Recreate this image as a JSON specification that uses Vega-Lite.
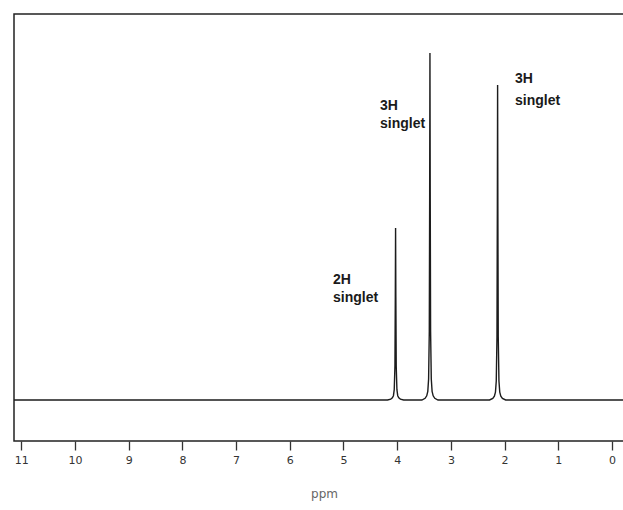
{
  "$schema": "https://vega.github.io/schema/vega-lite/v6.json",
  "autosize": "none",
  "width": 620,
  "height": 427,
  "padding": {"left": 14, "top": 14, "right": 0, "bottom": 69},
  "background": "white",
  "config": {
    "view": {"stroke": "#222222", "strokeWidth": 1.5}
  },
  "datasets": {
    "spectrum": [
      {"ppm": 11.3, "intensity": 0},
      {"ppm": 8.0, "intensity": 0},
      {"ppm": 4.18, "intensity": 0},
      {"ppm": 4.12, "intensity": 0.9},
      {"ppm": 4.09, "intensity": 2.1},
      {"ppm": 4.07, "intensity": 4.3},
      {"ppm": 4.055, "intensity": 10.3},
      {"ppm": 4.042, "intensity": 34},
      {"ppm": 4.035, "intensity": 103},
      {"ppm": 4.03, "intensity": 172},
      {"ppm": 4.025, "intensity": 103},
      {"ppm": 4.018, "intensity": 34},
      {"ppm": 4.005, "intensity": 10.3},
      {"ppm": 3.99, "intensity": 4.3},
      {"ppm": 3.97, "intensity": 2.1},
      {"ppm": 3.94, "intensity": 0.9},
      {"ppm": 3.88, "intensity": 0},
      {"ppm": 3.54, "intensity": 0},
      {"ppm": 3.48, "intensity": 1.7},
      {"ppm": 3.45, "intensity": 4.2},
      {"ppm": 3.43, "intensity": 8.7},
      {"ppm": 3.415, "intensity": 21},
      {"ppm": 3.402, "intensity": 69},
      {"ppm": 3.395, "intensity": 208},
      {"ppm": 3.39, "intensity": 347},
      {"ppm": 3.385, "intensity": 208},
      {"ppm": 3.378, "intensity": 69},
      {"ppm": 3.365, "intensity": 21},
      {"ppm": 3.35, "intensity": 8.7},
      {"ppm": 3.33, "intensity": 4.2},
      {"ppm": 3.30, "intensity": 1.7},
      {"ppm": 3.24, "intensity": 0},
      {"ppm": 2.28, "intensity": 0},
      {"ppm": 2.22, "intensity": 1.6},
      {"ppm": 2.19, "intensity": 3.8},
      {"ppm": 2.17, "intensity": 7.9},
      {"ppm": 2.155, "intensity": 19},
      {"ppm": 2.142, "intensity": 63},
      {"ppm": 2.135, "intensity": 189},
      {"ppm": 2.13, "intensity": 315},
      {"ppm": 2.125, "intensity": 189},
      {"ppm": 2.118, "intensity": 63},
      {"ppm": 2.105, "intensity": 19},
      {"ppm": 2.09, "intensity": 7.9},
      {"ppm": 2.07, "intensity": 3.8},
      {"ppm": 2.04, "intensity": 1.6},
      {"ppm": 1.98, "intensity": 0},
      {"ppm": -0.5, "intensity": 0}
    ],
    "labels": [
      {"ppm": 4.32, "intensity": 294, "text": "3H"},
      {"ppm": 4.32, "intensity": 276, "text": "singlet"},
      {"ppm": 1.806, "intensity": 321, "text": "3H"},
      {"ppm": 1.806, "intensity": 299, "text": "singlet"},
      {"ppm": 5.196, "intensity": 120, "text": "2H"},
      {"ppm": 5.196, "intensity": 102, "text": "singlet"}
    ]
  },
  "layer": [
    {
      "data": {"name": "spectrum"},
      "mark": {"type": "line", "color": "#1c1c1c", "strokeWidth": 1.4, "clip": true, "interpolate": "linear"},
      "encoding": {
        "x": {
          "field": "ppm",
          "type": "quantitative",
          "scale": {"domain": [-0.41, 11.136], "reverse": true, "nice": false, "zero": false},
          "axis": {
            "values": [0, 0.5, 1, 1.5, 2, 2.5, 3, 3.5, 4, 4.5, 5, 5.5, 6, 6.5, 7, 7.5, 8, 8.5, 9, 9.5, 10, 10.5, 11],
            "labelExpr": "datum.value % 1 ? '' : datum.label",
            "domain": false,
            "grid": false,
            "tickColor": "#333333",
            "tickWidth": 1.3,
            "tickSize": {"condition": {"test": "datum.value % 1 !== 0", "value": 5}, "value": 9},
            "labelFont": "DejaVu Sans",
            "labelFontSize": 11,
            "labelColor": "#333333",
            "labelPadding": 4,
            "title": "ppm",
            "titleFont": "DejaVu Sans",
            "titleFontSize": 12,
            "titleFontWeight": "normal",
            "titleColor": "#666666",
            "titlePadding": 23
          }
        },
        "y": {
          "field": "intensity",
          "type": "quantitative",
          "scale": {"domain": [-41, 386], "nice": false, "zero": false},
          "axis": null
        }
      }
    },
    {
      "data": {"name": "labels"},
      "mark": {"type": "text", "align": "left", "baseline": "middle", "font": "Liberation Sans", "fontSize": 14, "fontWeight": "bold", "color": "#1a1a1a"},
      "encoding": {
        "x": {"field": "ppm", "type": "quantitative"},
        "y": {"field": "intensity", "type": "quantitative"},
        "text": {"field": "text", "type": "nominal"}
      }
    }
  ]
}
